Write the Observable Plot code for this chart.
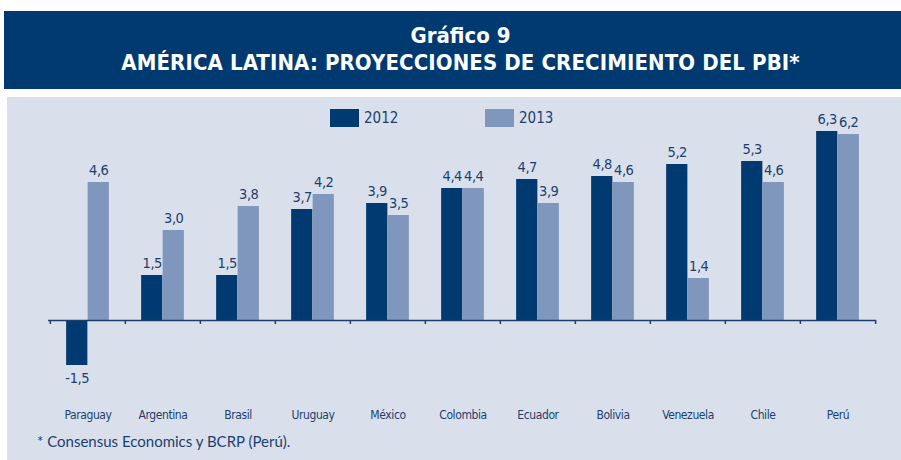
<!DOCTYPE html>
<html><head><meta charset="utf-8">
<script src="https://cdn.jsdelivr.net/npm/d3@7"></script>
<script src="https://cdn.jsdelivr.net/npm/@observablehq/plot@0.6"></script>
<style>
body{margin:0;background:#fff;width:901px;height:460px;position:relative;overflow:hidden;font-family:"DejaVu Sans Condensed","Liberation Sans",sans-serif;color:#1d3f6e}
#banner{position:absolute;left:4px;top:11px;width:897px;height:78px;background:#003a70;color:#fff;text-align:center;font-weight:bold}
#t1{position:absolute;top:12px;left:16px;right:0;font-size:22px;letter-spacing:0px}
#t2{position:absolute;top:39px;left:16px;right:0;font-size:22px;letter-spacing:0.1px}
#panel{position:absolute;left:7px;top:97px;width:894px;height:363px;background:#d9dfeb}
#chart{position:absolute;left:0;top:97px}
.leg{position:absolute;top:109px;font-size:15px;display:flex;align-items:center}
.sw{width:29px;height:18px;margin-right:5px}
#foot{position:absolute;left:37px;top:432px;font-size:15px;font-family:"Lato","Open Sans",sans-serif}
#chart svg text{letter-spacing:-0.4px}
</style></head>
<body>
<div id="banner"><div id="t1">Gráfico 9</div><div id="t2">AMÉRICA LATINA: PROYECCIONES DE CRECIMIENTO DEL PBI*</div></div>
<div id="panel"></div>
<div id="chart"></div>
<div class="leg" style="left:330px"><div class="sw" style="background:#003a70"></div>2012</div>
<div class="leg" style="left:485px"><div class="sw" style="background:#7f97bd"></div>2013</div>
<div id="foot">* Consensus Economics y BCRP (Perú).</div>
<script>
const countries = ["Paraguay","Argentina","Brasil","Uruguay","México","Colombia","Ecuador","Bolivia","Venezuela","Chile","Perú"];
const v2012 = [-1.5,1.5,1.5,3.7,3.9,4.4,4.7,4.8,5.2,5.3,6.3];
const v2013 = [4.6,3.0,3.8,4.2,3.5,4.4,3.9,4.6,1.4,4.6,6.2];
const years = ["2012","2013"];
const colors = ["#003a70","#7f97bd"];

const d12 = countries.map((c,i)=>({country:c, year:"2012", value:v2012[i]}));
const d13 = countries.map((c,i)=>({country:c, year:"2013", value:v2013[i]}));
const fmt = v => d3.format(".1f")(v).replace(".", ",").replace("\u2212", "-");
const bw = (876-48)/countries.length;
const barW = 21.5;
const font = "'DejaVu Sans Condensed','Liberation Sans',sans-serif";

function labels(arr, dx){
  return [
    Plot.text(arr.filter(d=>d.value>=0), {x:"country", y:"value", text: d=>fmt(d.value), dx, dy:-12, fontSize: 14.5, fill:"#1d3f6e"}),
    Plot.text(arr.filter(d=>d.value<0), {x:"country", y:"value", text: d=>fmt(d.value), dx, dy:13, fontSize: 14.5, fill:"#1d3f6e"})
  ];
}

const plot = Plot.plot({
  width: 901,
  height: 340,
  marginLeft: 48,
  marginRight: 25,
  marginTop: 0,
  marginBottom: 117,
  style: {background: "transparent", fontFamily: font, color: "#1d3f6e"},
  x: {domain: countries, padding: 0},
  y: {domain: [-2, 7], range: [283, 13], axis: null},
  marks: [
    Plot.barY(d12, {x:"country", y:"value", fill:colors[0], insetLeft: bw/2-barW, insetRight: bw/2}),
    Plot.barY(d13, {x:"country", y:"value", fill:colors[1], insetLeft: bw/2, insetRight: bw/2-barW}),
    Plot.ruleY([0], {stroke:"#1d3f6e", strokeWidth:1.5}),
    Plot.ruleX(countries, {x: d=>d, y1: ()=>0, y2: ()=>0, dx: -bw/2, insetBottom: -4, stroke:"#1d3f6e", strokeWidth:1.5}),
    Plot.ruleX(countries.slice(-1), {x: d=>d, y1: ()=>0, y2: ()=>0, dx: bw/2, insetBottom: -4, stroke:"#1d3f6e", strokeWidth:1.5}),
    ...labels(d12, -barW/2),
    ...labels(d13, barW/2),
    Plot.axisX({tickSize: 0, tickPadding: 90, label: null, fontSize: 12, fill: "#1d3f6e"})
  ]
});
document.getElementById("chart").appendChild(plot);
</script>
</body></html>
